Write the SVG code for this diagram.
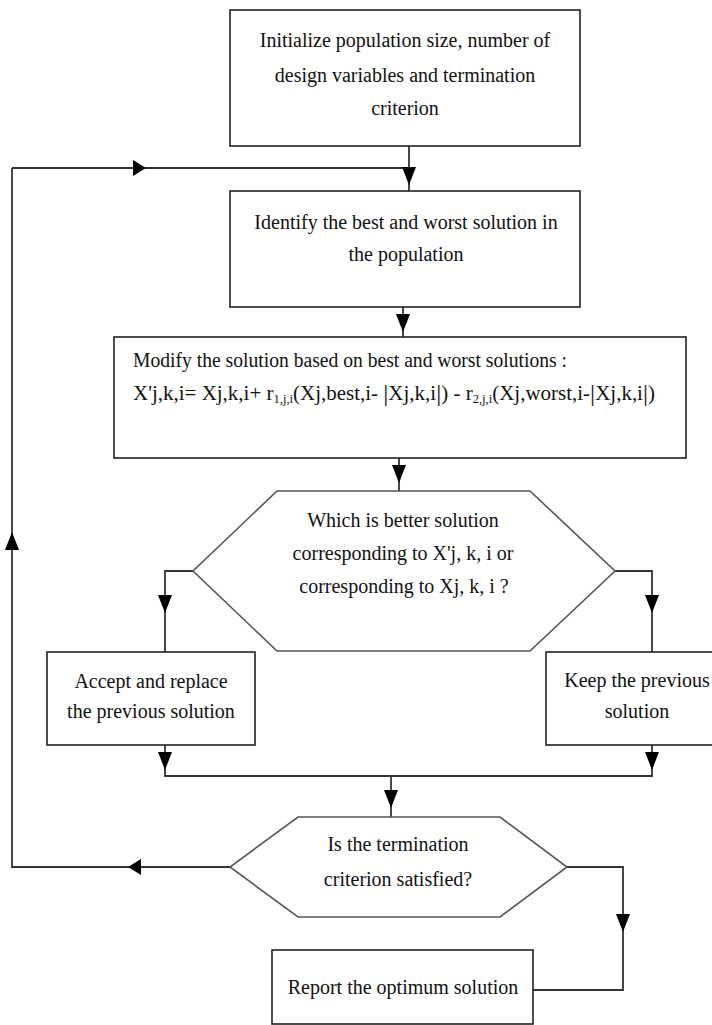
<svg xmlns="http://www.w3.org/2000/svg" xmlns:xlink="http://www.w3.org/1999/xlink" width="712" height="1025" viewBox="0 0 712 1025">
<style>
.box{fill:#fff;stroke:#222;stroke-width:1.6}
.hex{fill:#fff;stroke:#555;stroke-width:1.6}
.ln{fill:none;stroke:#333;stroke-width:1.8}
.ah{fill:#000}
text{font-family:"Liberation Serif","Times New Roman",serif;font-size:20px;fill:#111}
.c{text-anchor:middle}
.sub{font-size:12px}
.bar{font-size:24px}
</style>
<defs>
<path id="ad" d="M-7,-18 L7,-18 L0,0 Z"/>
<path id="ar" d="M-13,-8 L-13,8 L0,0 Z"/>
</defs>
<rect width="712" height="1025" fill="#fff"/>
<g id="connectors">
<path class="ln" d="M409,146 V191"/>
<path class="ln" d="M12,168 H409"/>
<path class="ln" d="M403,307 V337"/>
<path class="ln" d="M399,458 V491"/>
<path class="ln" d="M193,571 H165 V652"/>
<path class="ln" d="M615,571 H652 V652"/>
<path class="ln" d="M165,745 V776 H652 V745"/>
<path class="ln" d="M391,776 V817"/>
<path class="ln" d="M230,867 H12 V168"/>
<path class="ln" d="M567,867 H623 V990 H533"/>
<use href="#ad" class="ah" transform="translate(409,185)"/>
<use href="#ar" class="ah" transform="translate(146,168)"/>
<use href="#ad" class="ah" transform="translate(403,332)"/>
<use href="#ad" class="ah" transform="translate(399,483)"/>
<use href="#ad" class="ah" transform="translate(165,613)"/>
<use href="#ad" class="ah" transform="translate(652,613)"/>
<use href="#ad" class="ah" transform="translate(165,770)"/>
<use href="#ad" class="ah" transform="translate(652,770)"/>
<use href="#ad" class="ah" transform="translate(391,808)"/>
<use href="#ar" class="ah" transform="translate(128,867) rotate(180)"/>
<use href="#ad" class="ah" transform="translate(12,532) rotate(180)"/>
<use href="#ad" class="ah" transform="translate(623,932)"/>
</g>
<g id="init">
<rect class="box" x="230" y="10" width="350" height="136"/>
<text class="c" x="405" y="47">Initialize population size, number of</text>
<text class="c" x="405" y="82">design variables and termination</text>
<text class="c" x="405" y="115">criterion</text>
</g>
<g id="identify">
<rect class="box" x="230" y="191" width="350" height="116"/>
<text class="c" x="406" y="229">Identify the best and worst solution in</text>
<text class="c" x="406" y="261">the population</text>
</g>
<g id="modify">
<rect class="box" x="114" y="337" width="572" height="121"/>
<text x="133" y="367" textLength="434" lengthAdjust="spacingAndGlyphs">Modify the solution based on best and worst solutions :</text>
<text x="133" y="400" textLength="522" lengthAdjust="spacingAndGlyphs">X'j,k,i= Xj,k,i+ r<tspan class="sub" dy="3">1,j,i</tspan><tspan dy="-3">(Xj,best,i- </tspan><tspan class="bar" dy="1">|</tspan><tspan dy="-1">Xj,k,i</tspan><tspan class="bar" dy="1">|</tspan><tspan dy="-1">) - r</tspan><tspan class="sub" dy="3">2,j,i</tspan><tspan dy="-3">(Xj,worst,i-</tspan><tspan class="bar" dy="1">|</tspan><tspan dy="-1">Xj,k,i</tspan><tspan class="bar" dy="1">|</tspan><tspan dy="-1">)</tspan></text>
</g>
<g id="compare">
<polygon class="hex" points="277,491 530,491 615,571 530,651 277,651 193,571"/>
<text class="c" x="403" y="527">Which is better solution</text>
<text class="c" x="403" y="560">corresponding to X'j, k, i or</text>
<text class="c" x="404" y="593">corresponding to Xj, k, i ?</text>
</g>
<g id="accept">
<rect class="box" x="47" y="652" width="208" height="93"/>
<text class="c" x="151" y="688">Accept and replace</text>
<text class="c" x="151" y="718">the previous solution</text>
</g>
<g id="keep">
<rect class="box" x="546" y="652" width="190" height="93"/>
<text class="c" x="637" y="687">Keep the previous</text>
<text class="c" x="637" y="718">solution</text>
</g>
<g id="terminate">
<polygon class="hex" points="298,817 500,817 567,867 500,917 298,917 230,867"/>
<text class="c" x="398" y="851">Is the termination</text>
<text class="c" x="398" y="886">criterion satisfied?</text>
</g>
<g id="report">
<rect class="box" x="272" y="950" width="261" height="74"/>
<text class="c" x="403" y="994">Report the optimum solution</text>
</g>
</svg>
